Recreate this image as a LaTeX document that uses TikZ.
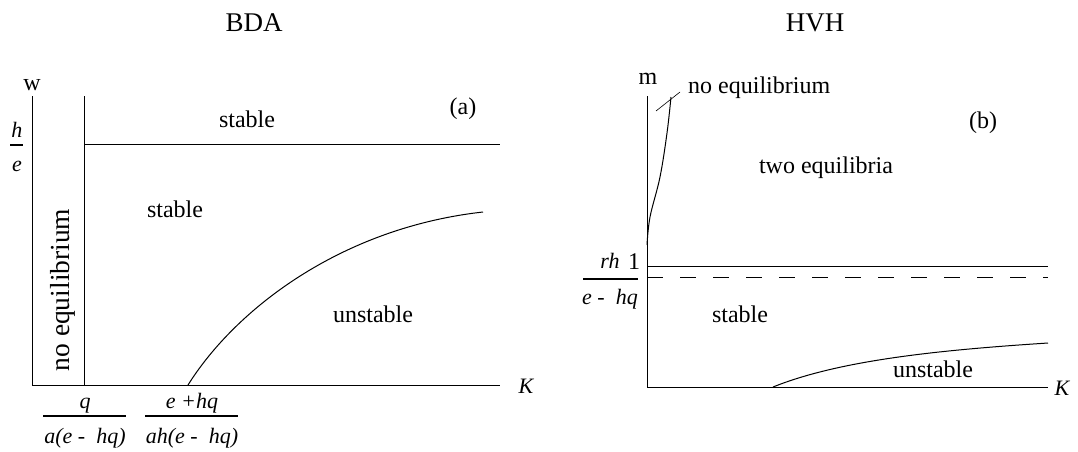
\documentclass[tikz,border=0pt]{standalone}
\usepackage{fontspec}
\setmainfont{Liberation Serif}
\begin{document}
\begin{tikzpicture}[x=1pt,y=-1pt,
  lbl/.style={font=\fontsize{24}{28}\selectfont, inner sep=0pt, anchor=base},
  vlbl/.style={font=\fontsize{27.5}{32}\selectfont, inner sep=0pt, rotate=90},
  ttl/.style={font=\fontsize{27}{32}\selectfont, inner sep=0pt, anchor=base},
  fr/.style={font=\fontsize{22}{26}\selectfont\itshape, inner sep=0pt, anchor=base},
  ln/.style={line width=1pt},
  bar/.style={line width=2.5pt}]
\useasboundingbox (0,0) rectangle (1078,451);
% ---------- BDA ----------
\node[ttl] (tA) at (254,31) {BDA};
\coordinate (aO) at (32,385);
\coordinate (aT) at (32,96);
\coordinate (aR) at (500,385);
\draw[ln] (aT) -- (aO) -- (aR);
\coordinate (vB) at (84,385);
\coordinate (vT) at (84,96);
\draw[ln] (vB) -- (vT);
\coordinate (hL) at (84,144);
\coordinate (hR) at (500,144);
\draw[ln] (hL) -- (hR);
\node[lbl] (w) at (32,90) {w};
\node[fr] (hh) at (17,137) {h};
\draw[bar] (10,145) -- (23,145);
\node[fr] (ee) at (17,171) {e};
\node[lbl] (s1) at (247,127) {stable};
\node[lbl] (a) at (463,114) {(a)};
\node[lbl] (s2) at (175,217) {stable};
\node[vlbl] (ne) at (63,290) {no equilibrium};
\draw[ln] (188,385) .. controls (235,310) and (340,228) .. (483,212);
\node[lbl] (u1) at (373,322) {unstable};
\node[fr] (K1) at (526,393) {K};
% fractions
\node[fr] (q1) at (85,408) {q};
\draw[bar] (43,416) -- (126,416);
\node[fr] (d1) at (85,443) {a(e -\ \ hq)};
\node[fr] (q2) at (192,408) {e +hq};
\draw[bar] (145,416) -- (238,416);
\node[fr] (d2) at (192,443) {ah(e -\ \ hq)};
% ---------- HVH ----------
\node[ttl] (tB) at (815,31) {HVH};
\coordinate (bO) at (647,387);
\coordinate (bT) at (647,96);
\coordinate (bR) at (1048,387);
\draw[ln] (bT) -- (bO) -- (bR);
\node[lbl] (m) at (648,84) {m};
\draw[ln] plot[smooth, tension=0.6] coordinates {(647,245) (650,217) (660,177) (667,133) (671,97)};
\coordinate (lA) at (656,111);
\coordinate (lB) at (680,92);
\draw[line width=0.6pt] (lA) -- (lB);
\node[lbl, anchor=base west] (neq) at (688,93) {no equilibrium};
\node[lbl] (b) at (983,128) {(b)};
\node[lbl] (two) at (826,173) {two equilibria};
\coordinate (sL) at (647,266);
\coordinate (sR) at (1048,266);
\draw[ln] (sL) -- (sR);
\coordinate (dL) at (647,277);
\coordinate (dR) at (1048,277);
\draw[ln, dash pattern=on 16pt off 17pt] (dL) -- (dR);
\node[lbl] (one) at (634,269) {1};
\node[fr] (rh) at (610,268) {rh};
\draw[bar] (583,279) -- (638,279);
\node[fr] (ehq) at (610,304) {e -\ \ hq};
\node[lbl] (s3) at (740,322) {stable};
\draw[ln] (773,387) .. controls (840,360) and (940,350) .. (1048,343);
\node[lbl] (u2) at (933,377) {unstable};
\node[fr] (K2) at (1062,395) {K};
\end{tikzpicture}
\end{document}
